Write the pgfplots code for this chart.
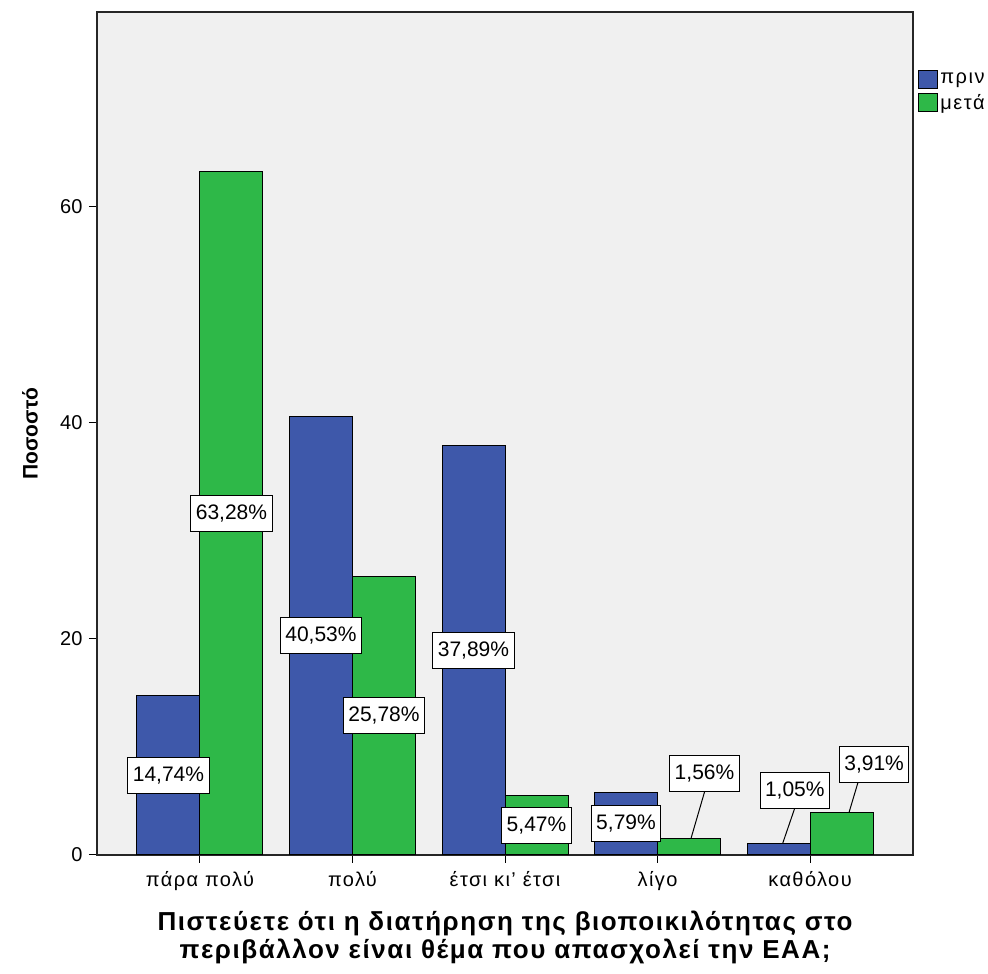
\documentclass[border=0pt]{standalone}
\usepackage{fontspec}
\setmainfont{Liberation Sans}
\usepackage{pgfplots}
\pgfplotsset{compat=1.18}

\definecolor{prin}{RGB}{62,88,170}
\definecolor{meta}{RGB}{46,184,72}
\definecolor{panel}{RGB}{240,240,240}

\tikzset{
  vlab/.style={draw=black, fill=white, line width=1pt, inner xsep=5pt,
    minimum height=36pt, font=\fontsize{21}{23}\selectfont},
  leader/.style={draw=black, line width=1pt}
}

\begin{document}
\begin{tikzpicture}
\path[use as bounding box] (0,0) rectangle (988pt,974pt);
\begin{axis}[
  at={(97pt,119pt)}, anchor=south west,
  scale only axis, width=816pt, height=843pt,
  xmin=-0.675, xmax=4.675, ymin=0, ymax=78,
  ybar=0pt, bar width=63pt,
  axis background/.style={fill=panel},
  axis line style={line width=1.3pt, black!85},
  xtick={0,1,2,3,4},
  xticklabels={πάρα πολύ, πολύ, έτσι κι' έτσι, λίγο, καθόλου},
  ytick={0,20,40,60},
  xtick pos=lower, ytick pos=left,
  tick align=outside, major tick length=8pt,
  tick style={line width=1pt, black},
  /pgf/number format/assume math mode=true,
  yticklabel style={font=\fontsize{20}{22}\selectfont, xshift=-3pt},
  xticklabel style={font=\fontsize{20}{22}\selectfont\addfontfeature{LetterSpace=7},
    yshift=-5pt},
  ylabel={Ποσοστό},
  ylabel style={font=\bfseries\fontsize{21}{24}\selectfont,
    at={(axis description cs:-0.082,0.5)}, anchor=center},
  xlabel={Πιστεύετε ότι η διατήρηση της βιοποικιλότητας στο\\περιβάλλον είναι θέμα που απασχολεί την ΕΑΑ;},
  xlabel style={font=\bfseries\fontsize{26}{28}\selectfont\addfontfeature{LetterSpace=6},
    align=center, at={(axis description cs:0.5,-0.0973)}, anchor=center},
  legend style={at={(1.005,0.933)}, anchor=north west, draw=none,
    fill=white, font=\fontsize{20}{21}\selectfont\addfontfeature{LetterSpace=8},
    row sep=4pt, inner sep=1pt, cells={anchor=west}},
  legend image code/.code={\draw[#1, draw=black, line width=1pt]
    (0pt,-9pt) rectangle (19pt,9pt);},
]
\addplot[fill=prin, draw=black, line width=1pt]
  coordinates {(0,14.74) (1,40.53) (2,37.89) (3,5.79) (4,1.05)};
\addplot[fill=meta, draw=black, line width=1pt]
  coordinates {(0,63.28) (1,25.78) (2,5.47) (3,1.56) (4,3.91)};
\legend{πριν, μετά}

% leader lines for the short bars
\draw[leader] (axis cs:3.22,1.56) -- (axis cs:3.31,5.92);
\draw[leader] (axis cs:3.82,1.05) -- (axis cs:3.90,4.35);
\draw[leader] (axis cs:4.255,3.91) -- (axis cs:4.315,6.75);

% value labels at half bar height
\node[vlab] at (axis cs:-0.2066,7.37)  {14,74\%};
\node[vlab] at (axis cs:0.2066,31.64)  {63,28\%};
\node[vlab] at (axis cs:0.7934,20.265) {40,53\%};
\node[vlab] at (axis cs:1.2066,12.89)  {25,78\%};
\node[vlab] at (axis cs:1.7934,18.945) {37,89\%};
\node[vlab] at (axis cs:2.2066,2.735)  {5,47\%};
\node[vlab] at (axis cs:2.7934,2.895)  {5,79\%};
\node[vlab] at (axis cs:3.308,7.58)    {1,56\%};
\node[vlab] at (axis cs:3.90,6.01)     {1,05\%};
\node[vlab] at (axis cs:4.42,8.41)     {3,91\%};
\end{axis}
\end{tikzpicture}
\end{document}
